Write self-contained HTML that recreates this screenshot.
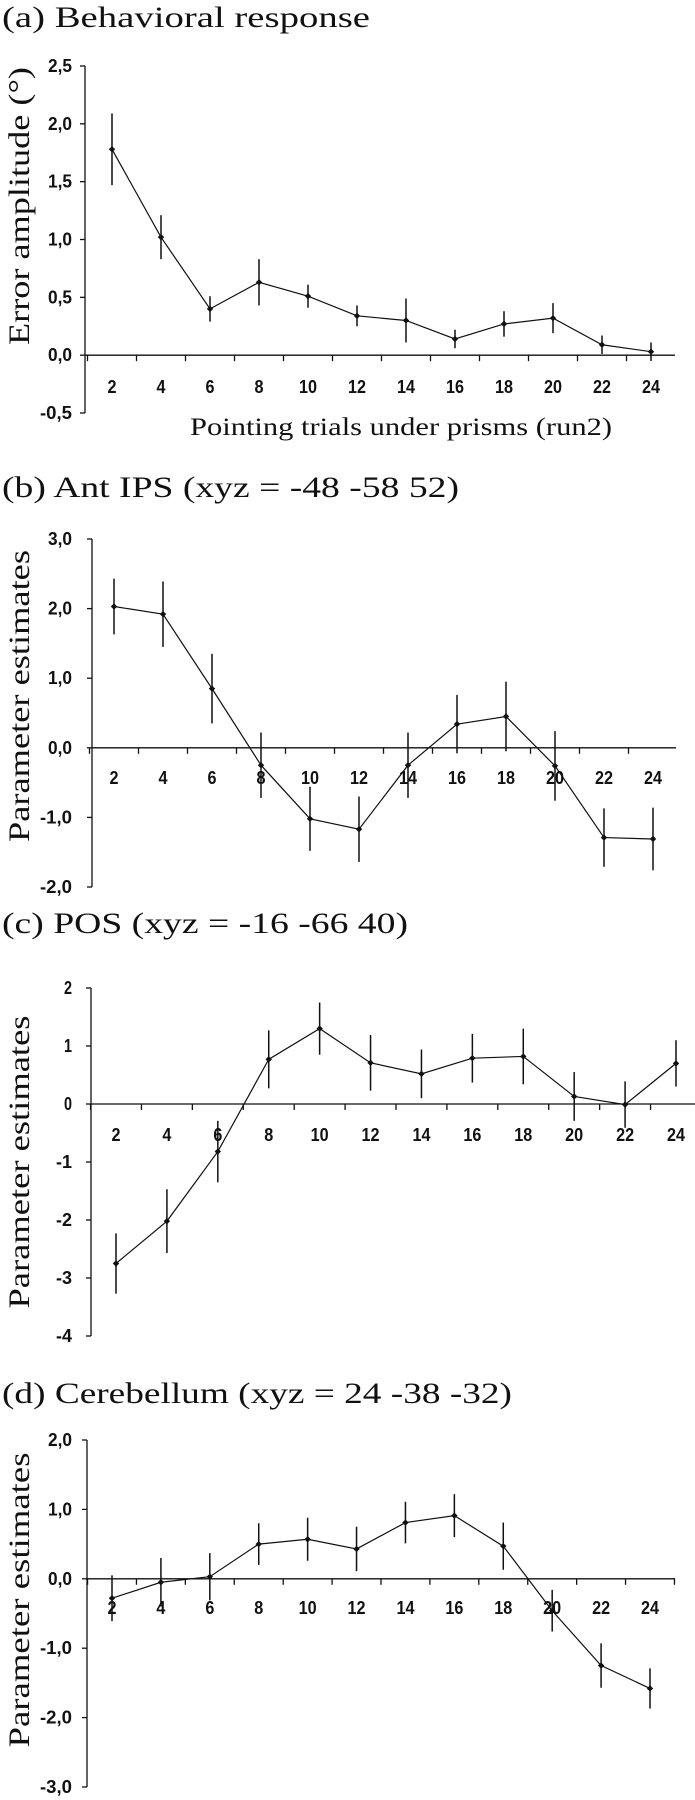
<!DOCTYPE html>
<html><head><meta charset="utf-8">
<style>
html,body{margin:0;padding:0;background:#fff;}
svg{display:block;}
.ttl{font-family:"Liberation Serif",serif;font-size:30px;fill:#111;}
.tick{font-family:"Liberation Sans",sans-serif;font-weight:bold;font-size:18px;fill:#111;}
</style></head>
<body>
<svg id="fig" width="695" height="1800" viewBox="0 0 695 1800" xmlns="http://www.w3.org/2000/svg"></svg>
<script>
const categories=[2,4,6,8,10,12,14,16,18,20,22,24];
const valuesA=[1.78,1.02,0.40,0.63,0.51,0.34,0.30,0.14,0.27,0.32,0.09,0.03];
const errorsA=[0.31,0.19,0.11,0.20,0.10,0.09,0.19,0.08,0.11,0.13,0.08,0.08];
const ticksA=["2,5","2,0","1,5","1,0","0,5","0,0","-0,5"];
const valuesB=[2.03,1.92,0.85,-0.25,-1.02,-1.17,-0.25,0.34,0.45,-0.26,-1.29,-1.31];
const errorsB=[0.40,0.47,0.50,0.47,0.46,0.47,0.47,0.42,0.50,0.50,0.42,0.45];
const ticksB=["3,0","2,0","1,0","0,0","-1,0","-2,0"];
const valuesC=[-2.75,-2.02,-0.82,0.77,1.30,0.71,0.52,0.79,0.82,0.13,-0.01,0.70];
const errorsC=[0.52,0.55,0.53,0.50,0.45,0.48,0.42,0.42,0.48,0.42,0.40,0.40];
const ticksC=["2","1","0","-1","-2","-3","-4"];
const valuesD=[-0.28,-0.05,0.03,0.50,0.57,0.43,0.81,0.91,0.47,-0.46,-1.25,-1.58];
const errorsD=[0.33,0.35,0.34,0.30,0.31,0.32,0.30,0.31,0.34,0.30,0.32,0.29];
const ticksD=["2,0","1,0","0,0","-1,0","-2,0","-3,0"];

const NS="http://www.w3.org/2000/svg";
const svg=document.getElementById('fig');
function mk(tag,attrs,parent){const e=document.createElementNS(NS,tag);for(const k in attrs)e.setAttribute(k,attrs[k]);(parent||svg).appendChild(e);return e;}

const panels=[
 {id:'a',title:'(a) Behavioral response',tw:368,tb:27,ytitle:'Error amplitude (°)',ytl:278,ytc:206,
  ax:85,x0:112,x1:651,xend:675,ymax:2.5,ymin:-0.5,ytop:66,ybot:413,xl:393,vals:valuesA,errs:errorsA,ticks:ticksA,xtitle:true},
 {id:'b',title:'(b) Ant IPS (xyz = -48 -58 52)',tw:457,tb:497,ytitle:'Parameter estimates',ytl:292,ytc:696,
  ax:92,x0:114,x1:653,xend:676,ymax:3,ymin:-2,ytop:539,ybot:887,xl:784,vals:valuesB,errs:errorsB,ticks:ticksB},
 {id:'c',title:'(c) POS (xyz = -16 -66 40)',tw:406,tb:933,ytitle:'Parameter estimates',ytl:293,ytc:1162,
  ax:91,x0:116,x1:676,xend:695,ymax:2,ymin:-4,ytop:988,ybot:1336,xl:1141,vals:valuesC,errs:errorsC,ticks:ticksC},
 {id:'d',title:'(d) Cerebellum (xyz = 24 -38 -32)',tw:510,tb:1403,ytitle:'Parameter estimates',ytl:295,ytc:1600,
  ax:87,x0:112,x1:650,xend:675,ymax:2,ymin:-3,ytop:1440,ybot:1787,xl:1614,vals:valuesD,errs:errorsD,ticks:ticksD}
];

panels.forEach(p=>{
  const g=mk('g',{});
  
  
  const yS=v=>p.ytop+(p.ymax-v)/(p.ymax-p.ymin)*(p.ybot-p.ytop);
  const xS=i=>p.x0+i*(p.x1-p.x0)/(categories.length-1);
  const step=(p.x1-p.x0)/(categories.length-1);
  const t=mk('text',{x:2,y:p.tb,'class':'ttl',textLength:p.tw,lengthAdjust:'spacingAndGlyphs'},g);
  t.textContent=p.title;
  
  
  const yt=mk('text',{x:0,y:0,'class':'ttl','text-anchor':'middle',textLength:p.ytl,lengthAdjust:'spacingAndGlyphs',transform:`translate(29,${p.ytc}) rotate(-90)`},g);
  yt.textContent=p.ytitle;
  
  
  const ya=mk('line',{x1:p.ax,x2:p.ax,y1:p.ytop,y2:p.ybot,stroke:'#111','stroke-width':1.3},g);
  
  
  const n=p.ticks.length;
  p.ticks.forEach((lab,k)=>{
    const v=p.ymax-k*(p.ymax-p.ymin)/(n-1);
    const y=yS(v);
    mk('line',{x1:p.ax-5,x2:p.ax,y1:y,y2:y,stroke:'#111','stroke-width':1.3},g);
    const tx=mk('text',{x:72,y:y+6,'class':'tick','text-anchor':'end',textLength:lab.length*8,lengthAdjust:'spacingAndGlyphs'},g);
    tx.textContent=lab;
    
    
  });
  const y0=yS(0);
  const xa=mk('line',{x1:p.ax,x2:p.xend,y1:y0,y2:y0,stroke:'#111','stroke-width':1.3},g);
  
  
  for(let i=0;i<=categories.length;i++){
    const x=p.x0-step/2+i*step;
    if(x<=p.xend) mk('line',{x1:x,x2:x,y1:y0,y2:y0+6,stroke:'#111','stroke-width':1.3},g);
  }
  categories.forEach((c,i)=>{
    const tx=mk('text',{x:xS(i),y:p.xl,'class':'tick','text-anchor':'middle',textLength:String(c).length*9,lengthAdjust:'spacingAndGlyphs'},g);
    tx.textContent=c;
    
    
  });
  const pts=p.vals.map((v,i)=>xS(i)+','+yS(v)).join(' ');
  const pl=mk('polyline',{points:pts,fill:'none',stroke:'#111','stroke-width':1.2},g);
  
  
  p.vals.forEach((v,i)=>{
    const x=xS(i);
    const eb=mk('line',{x1:x,x2:x,y1:yS(v+p.errs[i]),y2:yS(v-p.errs[i]),stroke:'#111','stroke-width':1.5},g);
    
    
    const y=yS(v);
    const m=mk('polygon',{points:`${x},${y-3.2} ${x+3.2},${y} ${x},${y+3.2} ${x-3.2},${y}`,fill:'#111'},g);
    
    
  });
  if(p.xtitle){
    const xt=mk('text',{x:190,y:435,'class':'ttl',style:'font-size:25px',textLength:422,lengthAdjust:'spacingAndGlyphs'},g);
    xt.textContent='Pointing trials under prisms (run2)';
    
    
  }
});
</script>
</body></html>
